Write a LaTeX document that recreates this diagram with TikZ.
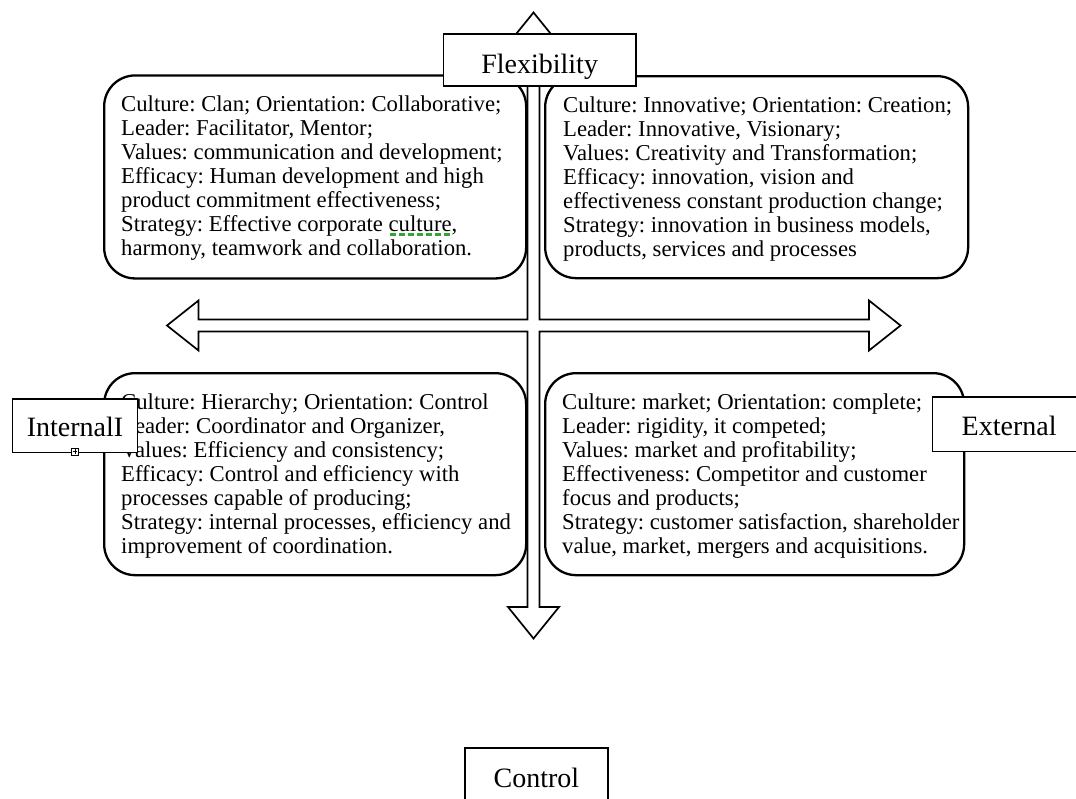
\documentclass[tikz,border=0pt]{standalone}
\usepackage{fontspec}
\setmainfont{Liberation Serif}
\frenchspacing
\definecolor{wordgreen}{RGB}{50,165,50}
\newcommand\gdashed[1]{\setbox0\hbox{#1}\rlap{\color{wordgreen}\raisebox{-4.5pt}{\hbox to \wd0{\xleaders\hbox to 8.8pt{\hss\rule{5.5pt}{3pt}\hss}\hfill}}}\box0}
\tikzset{
  quad/.style={draw, line width=2.3pt, rounded corners=31pt, inner sep=0pt, anchor=north west},
  quadtext/.style={inner sep=0pt, anchor=base west, font=\fontsize{22.7}{24}\selectfont},
  labelbox/.style={draw, fill=white, line width=1.6pt, inner sep=0pt, align=center, font=\fontsize{28}{30}\selectfont, anchor=north west},
  crossarrow/.style={draw, line width=1.7pt, fill=white, line join=miter},
}
\begin{document}
\begin{tikzpicture}[x=1pt, y=-1pt]
\useasboundingbox (0,0) rectangle (1076,798);
% four-way arrow
\draw[crossarrow] (533.5,12.5) -- (559,44) -- (539.5,44) -- (539.5,319.5) -- (869,319.5) -- (869,300.5) -- (900.5,325.5) -- (869,350.5) -- (869,331.5) -- (539.5,331.5) -- (539.5,607) -- (559,607) -- (533.5,638.5) -- (508,607) -- (527.5,607) -- (527.5,331.5) -- (198.5,331.5) -- (198.5,350.5) -- (167,325.5) -- (198.5,300.5) -- (198.5,319.5) -- (527.5,319.5) -- (527.5,44) -- (508,44) -- cycle;
% quadrant boxes
\node[quad, minimum width=422pt, minimum height=203pt] (tl) at (103,74.3) {};
\node[quad, minimum width=423pt, minimum height=202pt] (tr) at (544,75) {};
\node[quad, minimum width=422pt, minimum height=202pt] (bl) at (103,372) {};
\node[quad, minimum width=419pt, minimum height=202pt] (br) at (544,372) {};
% quadrant texts
\node[quadtext] (tltext) at (121,111.7) {\parbox[t]{440pt}{\raggedright
Culture: Clan; Orientation: Collaborative;\\
Leader: Facilitator, Mentor;\\
Values: communication and development;\\
Efficacy: Human development and high\\
product commitment effectiveness;\\
Strategy: Effective corporate \gdashed{culture},\\
harmony, teamwork and collaboration.}};
\node[quadtext] (trtext) at (563,112.5) {\parbox[t]{440pt}{\raggedright
Culture: Innovative; Orientation: Creation;\\
Leader: Innovative, Visionary;\\
Values: Creativity and Transformation;\\
Efficacy: innovation, vision and\\
effectiveness constant production change;\\
Strategy: innovation in business models,\\
products, services and processes}};
\node[quadtext] (bltext) at (121,409.5) {\parbox[t]{440pt}{\raggedright
Culture: Hierarchy; Orientation: Control\\
Leader: Coordinator and Organizer,\\
Values: Efficiency and consistency;\\
Efficacy: Control and efficiency with\\
processes capable of producing;\\
Strategy: internal processes, efficiency and\\
improvement of coordination.}};
\node[quadtext] (brtext) at (562,409.5) {\parbox[t]{440pt}{\raggedright
Culture: market; Orientation: complete;\\
Leader: rigidity, it competed;\\
Values: market and profitability;\\
Effectiveness: Competitor and customer\\
focus and products;\\
Strategy: customer satisfaction, shareholder\\
value, market, mergers and acquisitions.}};
% axis labels
\node[labelbox, text width=192.3pt, text height=39.4pt, text depth=12.3pt] (flex) at (442.7,33.3) {Flexibility};
\node[labelbox, text width=125pt, text height=37.7pt, text depth=15.7pt] (internal) at (11.7,398.3) {InternalI};
\node[draw, fill=white, line width=0.6pt, minimum size=6.5pt, inner sep=0pt] (icon) at (75,451.7) {};
\draw[line width=0.5pt] ([yshift=-1.2pt]icon.north) -- ([yshift=1.2pt]icon.south) ([xshift=1.2pt]icon.west) -- ([xshift=-1.2pt]icon.east);
\node[labelbox, text width=153.3pt, text height=39pt, text depth=15.7pt] (external) at (931.7,396) {External};
\node[labelbox, text width=143.3pt, text height=39pt, text depth=16pt] (control) at (464,747.3) {Control};
\end{tikzpicture}
\end{document}
